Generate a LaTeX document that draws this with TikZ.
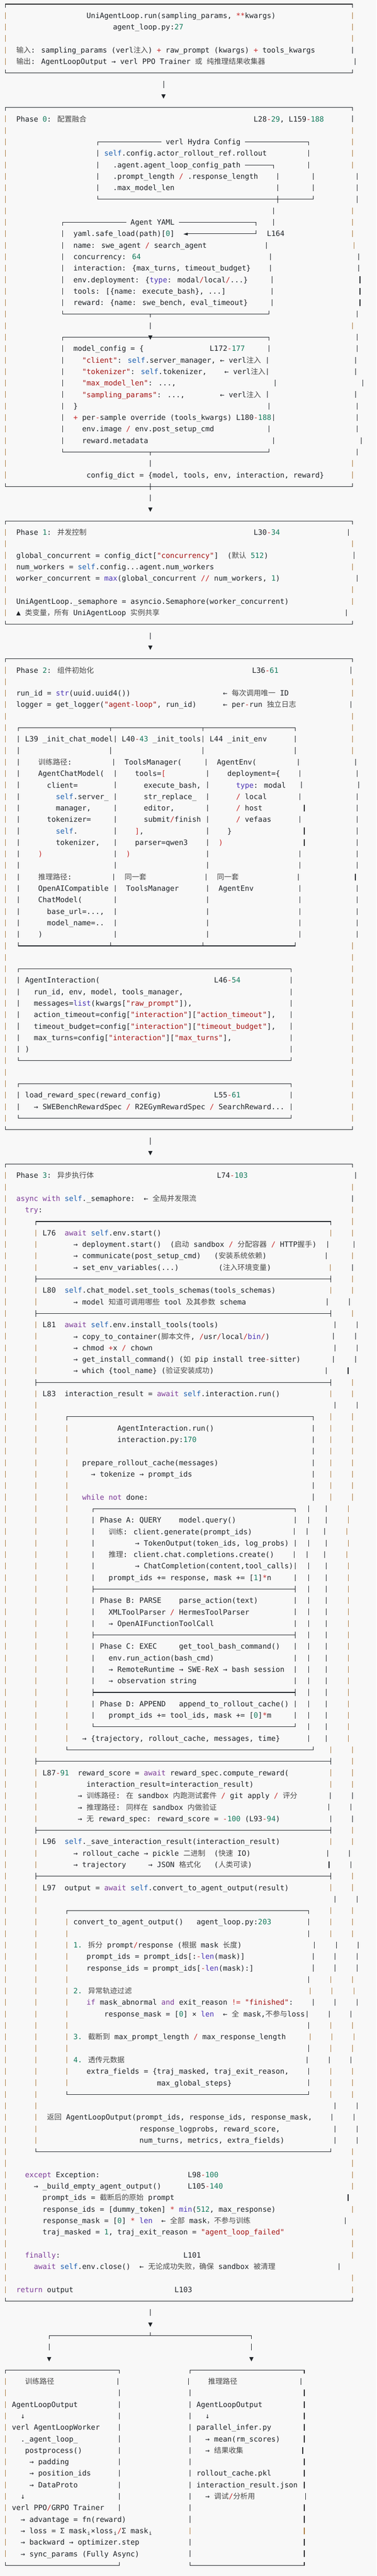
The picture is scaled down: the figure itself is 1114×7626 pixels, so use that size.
\documentclass[tikz,border=0pt]{standalone}
\usepackage{fontspec}
\newfontfamily\monof{DejaVu Sans Mono}
\newfontfamily\cjkf{Noto Sans CJK SC}
\usepackage{xcolor}
\definecolor{bgc}{HTML}{F8F8F8}
\definecolor{txt}{HTML}{1F2328}
\definecolor{kwc}{HTML}{7D3C98}
\definecolor{sfc}{HTML}{1D5FB0}
\definecolor{bic}{HTML}{4A33B5}
\definecolor{nmc}{HTML}{137A5C}
\definecolor{sqc}{HTML}{A31515}
\definecolor{opc}{HTML}{C62828}
\definecolor{zhc}{HTML}{4A4A4A}
\definecolor{barb}{HTML}{A8763A}
\newlength\cellw \setlength\cellw{13.0043pt}
\newlength\halfw \setlength\halfw{\dimexpr0.5\cellw-0.8pt\relax}
\newcommand\Kw[1]{\textcolor{kwc}{#1}}
\newcommand\Sf[1]{\textcolor{sfc}{#1}}
\newcommand\Bi[1]{\textcolor{bic}{#1}}
\newcommand\Nm[1]{\textcolor{nmc}{#1}}
\newcommand\Sq[1]{\textcolor{sqc}{#1}}
\newcommand\Op[1]{\textcolor{opc}{#1}}
\newcommand\Zh[1]{{\cjkf\color{zhc}#1}}
\newcommand\Sp[1]{\hspace*{#1\cellw}}
\newcommand\Hr[1]{\rule[7pt]{#1}{1.6pt}}
\newcommand\Hl[1]{\Hr{#1\cellw}}
\newcommand\Vb{\makebox[\cellw]{\textcolor{barb}{\rule[-2.2pt]{1.6pt}{20pt}}}}
\newcommand\Vk{\makebox[\cellw]{\rule[-2.2pt]{1.6pt}{20pt}}}
\newcommand\CTL{\hspace*{\halfw}\rule[-2.2pt]{1.6pt}{10.8pt}\Hr{\halfw}}
\newcommand\CTR{\Hr{\halfw}\rule[-2.2pt]{1.6pt}{10.8pt}\hspace*{\halfw}}
\newcommand\CBL{\hspace*{\halfw}\rule[7pt]{1.6pt}{10.8pt}\Hr{\halfw}}
\newcommand\CBR{\Hr{\halfw}\rule[7pt]{1.6pt}{10.8pt}\hspace*{\halfw}}
\newcommand\CTD{\Hr{\halfw}\rule[-2.2pt]{1.6pt}{10.8pt}\Hr{\halfw}}
\newcommand\CTU{\Hr{\halfw}\rule[7pt]{1.6pt}{10.8pt}\Hr{\halfw}}
\newcommand\CLT{\hspace*{\halfw}\rule[-2.2pt]{1.6pt}{20pt}\Hr{\halfw}}
\newcommand\CRT{\Hr{\halfw}\rule[-2.2pt]{1.6pt}{20pt}\hspace*{\halfw}}
\newcommand\CX{\Hr{\halfw}\rule[-2.2pt]{1.6pt}{20pt}\Hr{\halfw}}
\newcommand\Dn{\rlap{\Hr{\cellw}}\makebox[\cellw]{▼}}
\newcommand\Tri{\makebox[\cellw]{▼}}
\newcommand\LArw{\makebox[\cellw]{◄}}
\newcommand\Si{\makebox[\cellw]{\raisebox{-4pt}{\fontsize{14}{14}\selectfont i}}}
\newcommand\Pf{\Vb\Sp{6}\Vb\Sp{6}\Vb\Sp{5}}
\newcommand\Qs{\Sp{2}\Vk\Sp{3}\Vk\Sp{4}\Vb}
\newcommand\Row[2]{\node[rowtext] (r#1) at (9.1,-20-34*#1) {#2};}
\tikzset{rowtext/.style={anchor=base west, inner sep=0pt, outer sep=0pt, text=txt, font=\monof\fontsize{21.6}{34}\selectfont}}
\begin{document}
\catcode`\_=12
\begin{tikzpicture}[x=1pt,y=1pt]
\fill[bgc] (0,0) rectangle (1114,-7626);
\useasboundingbox (0,0) rectangle (1114,-7626);
\Row{0}{\CTL\Hl{78}\CTR}
\Row{1}{\Vb\Sp{18}UniAgentLoop.run(sampling_params, \Op{**}kwargs)\Sp{17}\Vb}
\Row{2}{\Vb\Sp{24}agent_loop.py:\Nm{27}\Sp{38}\Vb}
\Row{3}{\Vb\Sp{78}\Vb}
\Row{4}{\Vb\Sp{2}\Zh{输入}: sampling_params (verl\Zh{注入}) \Op{+} raw_prompt (kwargs) \Op{+} tools_kwargs\Sp{8}\Vk}
\Row{5}{\Vb\Sp{2}\Zh{输出}: AgentLoopOutput → verl PPO Trainer \Zh{或} \Zh{纯推理结果收集器}\Sp{20}\Vk}
\Row{6}{\CBL\Hl{78}\CBR}
\Row{7}{\Sp{36}\Vk}
\Row{8}{\Sp{36}\Tri}
\Row{9}{\CTL\Hl{78}\CTR}
\Row{10}{\Vb\Sp{2}Phase \Nm{0}: \Zh{配置融合}\Sp{38}L28\Op{-}\Nm{29}, L159\Op{-}\Nm{188}\Sp{6}\Vk}
\Row{11}{\Vb\Sp{78}\Vb}
\Row{12}{\Vb\Sp{20}\CTL\Hl{14} verl Hydra Config \Hl{14}\CTR\Sp{9}\Vb}
\Row{13}{\Vb\Sp{20}\Vk\Sp{1}\Sf{self}.config.actor_rollout_ref.rollout\Sp{9}\Vk\Sp{9}\Vb}
\Row{14}{\Vb\Sp{20}\Vk\Sp{3}.agent.agent_loop_config_path \Hl{6}\CTR\Sp{7}\Vk\Sp{9}\Vb}
\Row{15}{\Vb\Sp{20}\Vk\Sp{3}.prompt_length \Op{/} .response_length\Sp{4}\Vk\Sp{7}\Vk\Sp{9}\Vk}
\Row{16}{\Vb\Sp{20}\Vk\Sp{3}.max_model_len\Sp{23}\Vk\Sp{7}\Vk\Sp{9}\Vk}
\Row{17}{\Vb\Sp{20}\CBL\Hl{40}\CX\Hl{7}\CBR\Sp{9}\Vk}
\Row{18}{\Vb\Sp{60}\Vk\Sp{17}\Vb}
\Row{19}{\Vb\Sp{12}\CTL\Hl{14} Agent YAML \Hl{17}\CTR\Sp{3}\Vk\Sp{17}\Vb}
\Row{20}{\Vb\Sp{12}\Vk\Sp{2}yaml.safe_load(path)[\Nm{0}]\Sp{2}\LArw\Hl{15}\CBR\Sp{2}L164\Sp{15}\Vb}
\Row{21}{\Vb\Sp{12}\Vk\Sp{2}name: swe_agent \Op{/} search_agent\Sp{13}\Vk\Sp{19}\Vb}
\Row{22}{\Vb\Sp{12}\Vk\Sp{2}concurrency: \Nm{64}\Sp{29}\Vk\Sp{19}\Vk}
\Row{23}{\Vb\Sp{12}\Vk\Sp{2}interaction: \{max_turns, timeout_budget\}\Sp{4}\Vk\Sp{19}\Vk}
\Row{24}{\Vb\Sp{12}\Vk\Sp{2}env.deployment: \{\Bi{type}: modal\Op{/}local\Op{/}...\}\Sp{5}\Vk\Sp{19}\Vk}
\Row{25}{\Vb\Sp{12}\Vk\Sp{2}tools: [\{name: execute_bash\}, ...]\Sp{10}\Vk\Sp{19}\Vk}
\Row{26}{\Vb\Sp{12}\Vk\Sp{2}reward: \{name: swe_bench, eval_timeout\}\Sp{5}\Vk\Sp{19}\Vk}
\Row{27}{\Vb\Sp{12}\CBL\Hl{19}\CTD\Hl{26}\CBR\Sp{19}\Vk}
\Row{28}{\Vb\Sp{32}\Vk\Sp{45}\Vb}
\Row{29}{\Vb\Sp{12}\CTL\Hl{19}\Dn\Hl{26}\CTR\Sp{19}\Vk}
\Row{30}{\Vb\Sp{12}\Vk\Sp{2}model_config = \{\Sp{15}L172\Op{-}\Nm{177}\Sp{5}\Vk\Sp{19}\Vk}
\Row{31}{\Vb\Sp{12}\Vk\Sp{4}\Sq{"client"}: \Sf{self}.server_manager, ← verl\Zh{注入} \Vk\Sp{19}\Vk}
\Row{32}{\Vb\Sp{12}\Vk\Sp{4}\Sq{"tokenizer"}: \Sf{self}.tokenizer,\Sp{4}← verl\Zh{注入}\Vk\Sp{19}\Vk}
\Row{33}{\Vb\Sp{12}\Vk\Sp{4}\Sq{"max_model_len"}: ...,\Sp{22}\Vk\Sp{19}\Vk}
\Row{34}{\Vb\Sp{12}\Vk\Sp{4}\Sq{"sampling_params"}: ...,\Sp{8}← verl\Zh{注入} \Vk\Sp{19}\Vk}
\Row{35}{\Vb\Sp{12}\Vk\Sp{2}\}\Sp{43}\Vk\Sp{19}\Vk}
\Row{36}{\Vb\Sp{12}\Vk\Sp{2}\Op{+} per\Op{-}sample override (tools_kwargs) L180\Op{-}\Nm{188}\Vk\Sp{18}\Vk}
\Row{37}{\Vb\Sp{12}\Vk\Sp{4}env.image \Op{/} env.post_setup_cmd\Sp{12}\Vk\Sp{19}\Vk}
\Row{38}{\Vb\Sp{12}\Vk\Sp{4}reward.metadata\Sp{28}\Vk\Sp{19}\Vk}
\Row{39}{\Vb\Sp{12}\CBL\Hl{19}\CTD\Hl{26}\CBR\Sp{19}\Vk}
\Row{40}{\Vb\Sp{32}\Vk\Sp{45}\Vb}
\Row{41}{\Vb\Sp{18}config_dict = \{model, tools, env, interaction, reward\}\Sp{6}\Vb}
\Row{42}{\CBL\Hl{32}\CX\Hl{45}\CBR}
\Row{43}{\Sp{33}\Vk}
\Row{44}{\Sp{33}\Tri}
\Row{45}{\CTL\Hl{78}\CTR}
\Row{46}{\Vb\Sp{2}Phase \Nm{1}: \Zh{并发控制}\Sp{38}L30\Op{-}\Nm{34}\Sp{15}\Vk}
\Row{47}{\Vb\Sp{78}\Vb}
\Row{48}{\Vb\Sp{2}global_concurrent = config_dict[\Sq{"concurrency"}]\Sp{2}(\Zh{默认} \Nm{512})\Sp{19}\Vk}
\Row{49}{\Vb\Sp{2}num_workers = \Sf{self}.config...agent.num_workers\Sp{31}\Vb}
\Row{50}{\Vb\Sp{2}worker_concurrent = \Bi{max}(global_concurrent \Op{//} num_workers, \Nm{1})\Sp{17}\Vk}
\Row{51}{\Vb\Sp{78}\Vb}
\Row{52}{\Vb\Sp{2}UniAgentLoop._semaphore = asyncio.Semaphore(worker_concurrent)\Sp{14}\Vb}
\Row{53}{\Vb\Sp{2}▲ \Zh{类变量，所有} UniAgentLoop \Zh{实例共享}\Sp{42}\Vk}
\Row{54}{\CBL\Hl{78}\CBR}
\Row{55}{\Sp{33}\Vk}
\Row{56}{\Sp{33}\Tri}
\Row{57}{\CTL\Hl{78}\CTR}
\Row{58}{\Vb\Sp{2}Phase \Nm{2}: \Zh{组件初始化}\Sp{36}L36\Op{-}\Nm{61}\Sp{16}\Vk}
\Row{59}{\Vb\Sp{78}\Vb}
\Row{60}{\Vb\Sp{2}run_id = \Bi{str}(uuid.uuid4())\Sp{21}← \Zh{每次调用唯一} ID\Sp{14}\Vb}
\Row{61}{\Vb\Sp{2}logger = get_logger(\Sq{"agent-loop"}, run_id)\Sp{6}← per\Op{-}run \Zh{独立日志}\Sp{12}\Vk}
\Row{62}{\Vb\Sp{78}\Vb}
\Row{63}{\Vb\Sp{2}\CTL\Hl{20}\CTD\Hl{20}\CTD\Hl{20}\CTR\Sp{12}\Vb}
\Row{64}{\Vb\Sp{2}\Vk\Sp{1}L39 _init_chat_model\Vk\Sp{1}L40\Op{-}\Nm{43} _init_tools\Vk\Sp{1}L44 _init_env\Sp{6}\Vk\Sp{12}\Vb}
\Row{65}{\Vb\Sp{2}\Vk\Sp{20}\Vk\Sp{20}\Vk\Sp{20}\Vk\Sp{12}\Vb}
\Row{66}{\Vb\Sp{2}\Vk\Sp{4}\Zh{训练路径}:\Sp{9}\Vk\Sp{2}ToolsManager(\Sp{5}\Vk\Sp{2}AgentEnv(\Sp{9}\Vk\Sp{12}\Vk}
\Row{67}{\Vb\Sp{2}\Vk\Sp{4}AgentChatModel(\Sp{2}\Vk\Sp{4}tools=\Op{[}\Sp{9}\Vk\Sp{4}deployment=\{\Sp{4}\Vk\Sp{12}\Vk}
\Row{68}{\Vb\Sp{2}\Vk\Sp{6}client=\Sp{8}\Vk\Sp{6}execute_bash,\Sp{1}\Vk\Sp{6}\Bi{type}: modal\Sp{3}\Vk\Sp{12}\Vk}
\Row{69}{\Vb\Sp{2}\Vk\Sp{8}\Sf{self}.server_\Sp{1}\Vk\Sp{6}str_replace_\Sp{2}\Vk\Sp{6}\Op{/} local\Sp{7}\Vk\Sp{12}\Vk}
\Row{70}{\Vb\Sp{2}\Vk\Sp{8}manager,\Sp{5}\Vk\Sp{6}editor,\Sp{7}\Vk\Sp{6}\Op{/} host\Sp{9}\Vk\Sp{11}\Vk}
\Row{71}{\Vb\Sp{2}\Vk\Sp{6}tokenizer=\Sp{5}\Vk\Sp{6}submit\Op{/}finish\Sp{1}\Vk\Sp{6}\Op{/} vefaas\Sp{6}\Vk\Sp{12}\Vk}
\Row{72}{\Vb\Sp{2}\Vk\Sp{8}\Sf{self}.\Sp{8}\Vk\Sp{4}\Op{]},\Sp{14}\Vk\Sp{4}\}\Sp{16}\Vk\Sp{11}\Vk}
\Row{73}{\Vb\Sp{2}\Vk\Sp{8}tokenizer,\Sp{3}\Vk\Sp{4}parser=qwen3\Sp{4}\Vk\Sp{2}\Op{)}\Sp{18}\Vk\Sp{11}\Vk}
\Row{74}{\Vb\Sp{2}\Vk\Sp{4}\Op{)}\Sp{16}\Vk\Sp{2}\Op{)}\Sp{17}\Vk\Sp{20}\Vk\Sp{12}\Vk}
\Row{75}{\Vb\Sp{2}\Vk\Sp{21}\Vk\Sp{20}\Vk\Sp{20}\Vk\Sp{12}\Vk}
\Row{76}{\Vb\Sp{2}\Vk\Sp{4}\Zh{推理路径}:\Sp{9}\Vk\Sp{2}\Zh{同一套}\Sp{13}\Vk\Sp{2}\Zh{同一套}\Sp{13}\Vk\Sp{12}\Vk}
\Row{77}{\Vb\Sp{2}\Vk\Sp{4}OpenAICompatible\Sp{1}\Vk\Sp{2}ToolsManager\Sp{6}\Vk\Sp{2}AgentEnv\Sp{10}\Vk\Sp{12}\Vk}
\Row{78}{\Vb\Sp{2}\Vk\Sp{4}ChatModel(\Sp{7}\Vk\Sp{20}\Vk\Sp{20}\Vk\Sp{12}\Vk}
\Row{79}{\Vb\Sp{2}\Vk\Sp{6}base_url=...,\Sp{2}\Vk\Sp{20}\Vk\Sp{20}\Vk\Sp{12}\Vk}
\Row{80}{\Vb\Sp{2}\Vk\Sp{6}model_name=..\Sp{2}\Vk\Sp{20}\Vk\Sp{20}\Vk\Sp{12}\Vk}
\Row{81}{\Vb\Sp{2}\Vk\Sp{4})\Sp{16}\Vk\Sp{20}\Vk\Sp{20}\Vk\Sp{12}\Vk}
\Row{82}{\Vb\Sp{2}\CBL\Hl{20}\CTU\Hl{20}\CTU\Hl{20}\CBR\Sp{12}\Vb}
\Row{83}{\Vb\Sp{78}\Vb}
\Row{84}{\Vb\Sp{2}\CTL\Hl{61}\CTR\Sp{13}\Vb}
\Row{85}{\Vb\Sp{2}\Vk\Sp{1}AgentInteraction(\Sp{26}L46\Op{-}\Nm{54}\Sp{11}\Vk\Sp{13}\Vb}
\Row{86}{\Vb\Sp{2}\Vk\Sp{3}run_id, env, model, tools_manager,\Sp{24}\Vk\Sp{13}\Vb}
\Row{87}{\Vb\Sp{2}\Vk\Sp{3}messages=\Bi{list}(kwargs[\Sq{"raw_prompt"}]),\Sp{22}\Vk\Sp{13}\Vb}
\Row{88}{\Vb\Sp{2}\Vk\Sp{3}action_timeout=config[\Sq{"interaction"}][\Sq{"action_timeout"}],\Sp{3}\Vk\Sp{13}\Vb}
\Row{89}{\Vb\Sp{2}\Vk\Sp{3}timeout_budget=config[\Sq{"interaction"}][\Sq{"timeout_budget"}],\Sp{3}\Vk\Sp{13}\Vb}
\Row{90}{\Vb\Sp{2}\Vk\Sp{3}max_turns=config[\Sq{"interaction"}][\Sq{"max_turns"}],\Sp{13}\Vk\Sp{13}\Vb}
\Row{91}{\Vb\Sp{2}\Vk\Sp{1})\Sp{59}\Vk\Sp{13}\Vb}
\Row{92}{\Vb\Sp{2}\CBL\Hl{61}\CBR\Sp{13}\Vb}
\Row{93}{\Vb\Sp{78}\Vb}
\Row{94}{\Vb\Sp{2}\CTL\Hl{61}\CTR\Sp{13}\Vb}
\Row{95}{\Vb\Sp{2}\Vk\Sp{1}load_reward_spec(reward_config)\Sp{12}L55\Op{-}\Nm{61}\Sp{11}\Vk\Sp{13}\Vb}
\Row{96}{\Vb\Sp{2}\Vk\Sp{3}→ SWEBenchRewardSpec \Op{/} R2EGymRewardSpec \Op{/} SearchReward...\Sp{1}\Vk\Sp{13}\Vb}
\Row{97}{\Vb\Sp{2}\CBL\Hl{61}\CBR\Sp{13}\Vb}
\Row{98}{\CBL\Hl{78}\CBR}
\Row{99}{\Sp{33}\Vk}
\Row{100}{\Sp{33}\Tri}
\Row{101}{\CTL\Hl{78}\CTR}
\Row{102}{\Vb\Sp{2}Phase \Nm{3}: \Zh{异步执行体}\Sp{28}L74\Op{-}\Nm{103}\Sp{24}\Vk}
\Row{103}{\Vb\Sp{78}\Vb}
\Row{104}{\Vb\Sp{2}\Kw{async} \Kw{with} \Sf{self}._semaphore:\Sp{2}← \Zh{全局并发限流}\Sp{35}\Vk}
\Row{105}{\Vb\Sp{4}\Kw{try}:\Sp{70}\Vb}
\Row{106}{\Vb\Sp{6}\CTL\Hl{66}\CTR\Sp{4}\Vb}
\Row{107}{\Vb\Sp{6}\Vb\Sp{1}L76\Sp{2}\Kw{await} \Sf{self}.env.start()\Sp{38}\Vb\Sp{4}\Vb}
\Row{108}{\Vb\Sp{6}\Vb\Sp{8}→ deployment.start()\Sp{2}(\Zh{启动} sandbox \Op{/} \Zh{分配容器} \Op{/} HTTP\Zh{握手})\Sp{2}\Vk\Sp{5}\Vk}
\Row{109}{\Vb\Sp{6}\Vb\Sp{8}→ communicate(post_setup_cmd)\Sp{3}(\Zh{安装系统依赖})\Sp{13}\Vk\Sp{5}\Vb}
\Row{110}{\Vb\Sp{6}\Vb\Sp{8}→ set_env_variables(...)\Sp{9}(\Zh{注入环境变量})\Sp{13}\Vb\Sp{4}\Vk}
\Row{111}{\Vb\Sp{6}\CLT\Hl{66}\CRT\Sp{4}\Vb}
\Row{112}{\Vb\Sp{6}\Vb\Sp{1}L80\Sp{2}\Sf{self}.chat_model.set_tools_schemas(tools_schemas)\Sp{12}\Vb\Sp{4}\Vb}
\Row{113}{\Vb\Sp{6}\Vb\Sp{8}→ model \Zh{知道可调用哪些} tool \Zh{及其参数} schema\Sp{18}\Vk\Sp{4}\Vk}
\Row{114}{\Vb\Sp{6}\CLT\Hl{66}\CRT\Sp{4}\Vb}
\Row{115}{\Vb\Sp{6}\Vb\Sp{1}L81\Sp{2}\Kw{await} \Sf{self}.env.install_tools(tools)\Sp{26}\Vk\Sp{4}\Vk}
\Row{116}{\Vb\Sp{6}\Vb\Sp{8}→ copy_to_container(\Zh{脚本文件}, \Op{/}usr\Op{/}local\Op{/}\Bi{bin}\Op{/})\Sp{14}\Vk\Sp{4}\Vk}
\Row{117}{\Vb\Sp{6}\Vb\Sp{8}→ chmod \Op{+}x \Op{/} chown\Sp{41}\Vk\Sp{4}\Vk}
\Row{118}{\Vb\Sp{6}\Vb\Sp{8}→ get_install_command() (\Zh{如} pip install tree\Op{-}sitter)\Sp{7}\Vk\Sp{4}\Vk}
\Row{119}{\Vb\Sp{6}\Vb\Sp{8}→ which \{tool_name\} (\Zh{验证安装成功})\Sp{25}\Vk\Sp{4}\Vk}
\Row{120}{\Vb\Sp{6}\CLT\Hl{66}\CRT\Sp{4}\Vb}
\Row{121}{\Vb\Sp{6}\Vb\Sp{1}L83\Sp{2}interaction_result = \Kw{await} \Sf{self}.interaction.run()\Sp{11}\Vb\Sp{4}\Vb}
\Row{122}{\Vb\Sp{6}\Vb\Sp{67}\Vk\Sp{4}\Vk}
\Row{123}{\Vb\Sp{6}\Vb\Sp{6}\CTL\Hl{55}\CTR\Sp{3}\Vb\Sp{4}\Vb}
\Row{124}{\Vb\Sp{6}\Vb\Sp{6}\Vb\Sp{11}AgentInteraction.run()\Sp{22}\Vk\Sp{3}\Vb\Sp{4}\Vb}
\Row{125}{\Vb\Sp{6}\Vb\Sp{6}\Vb\Sp{11}interaction.py:\Nm{170}\Sp{26}\Vk\Sp{3}\Vb\Sp{4}\Vb}
\Row{126}{\Vb\Sp{6}\Vb\Sp{6}\Vb\Sp{55}\Vk\Sp{3}\Vb\Sp{4}\Vb}
\Row{127}{\Vb\Sp{6}\Vb\Sp{6}\Vb\Sp{3}prepare_rollout_cache(messages)\Sp{21}\Vk\Sp{3}\Vb\Sp{4}\Vb}
\Row{128}{\Vb\Sp{6}\Vb\Sp{6}\Vb\Sp{5}→ tokenize → prompt_ids\Sp{27}\Vk\Sp{3}\Vb\Sp{4}\Vb}
\Row{129}{\Vb\Sp{6}\Vb\Sp{6}\Vb\Sp{55}\Vk\Sp{3}\Vb\Sp{4}\Vb}
\Row{130}{\Vb\Sp{6}\Vb\Sp{6}\Vb\Sp{3}\Kw{while} \Kw{not} done:\Sp{37}\Vk\Sp{3}\Vb\Sp{4}\Vb}
\Row{131}{\Pf\CTL\Hl{45}\CTR\Qs}
\Row{132}{\Pf\Vk\Sp{1}Phase A: QUERY\Sp{4}model.query()\Sp{13}\Vk\Qs}
\Row{133}{\Pf\Vk\Sp{3}\Zh{训练}: client.generate(prompt_ids)\Sp{9}\Vk\Qs}
\Row{134}{\Pf\Vk\Sp{9}→ TokenOutput(token_ids, log_probs)\Sp{1}\Vk\Qs}
\Row{135}{\Pf\Vk\Sp{3}\Zh{推理}: client.chat.completions.create()\Sp{4}\Vk\Qs}
\Row{136}{\Pf\Vk\Sp{9}→ ChatCompletion(content,tool_calls)\Vk\Qs}
\Row{137}{\Pf\Vk\Sp{3}prompt_ids += response, mask += [\Nm{1}]\Op{*}n\Sp{5}\Vk\Qs}
\Row{138}{\Pf\CLT\Hl{45}\CRT\Qs}
\Row{139}{\Pf\Vk\Sp{1}Phase B: PARSE\Sp{4}parse_action(text)\Sp{8}\Vk\Qs}
\Row{140}{\Pf\Vk\Sp{3}XMLToolParser \Op{/} HermesToolParser\Sp{10}\Vk\Qs}
\Row{141}{\Pf\Vk\Sp{3}→ OpenAIFunctionToolCall\Sp{18}\Vk\Qs}
\Row{142}{\Pf\CLT\Hl{45}\CRT\Qs}
\Row{143}{\Pf\Vk\Sp{1}Phase C: EXEC\Sp{5}get_tool_bash_command()\Sp{3}\Vk\Qs}
\Row{144}{\Pf\Vk\Sp{3}env.run_action(bash_cmd)\Sp{18}\Vk\Qs}
\Row{145}{\Pf\Vk\Sp{3}→ RemoteRuntime → SWE\Op{-}ReX → bash session\Sp{2}\Vk\Qs}
\Row{146}{\Pf\Vk\Sp{3}→ observation string\Sp{22}\Vk\Qs}
\Row{147}{\Pf\CLT\Hl{45}\CRT\Qs}
\Row{148}{\Pf\Vk\Sp{1}Phase D: APPEND\Sp{3}append_to_rollout_cache()\Sp{1}\Vk\Qs}
\Row{149}{\Pf\Vk\Sp{3}prompt_ids += tool_ids, mask += [\Nm{0}]\Op{*}m\Sp{5}\Vk\Qs}
\Row{150}{\Pf\CBL\Hl{45}\CBR\Qs}
\Row{151}{\Vb\Sp{6}\Vb\Sp{6}\Vb\Sp{3}→ \{trajectory, rollout_cache, messages, time\}\Sp{6}\Vk\Sp{3}\Vk\Sp{4}\Vb}
\Row{152}{\Vb\Sp{6}\Vb\Sp{6}\CBL\Hl{55}\CBR\Sp{3}\Vb\Sp{4}\Vb}
\Row{153}{\Vb\Sp{6}\CLT\Hl{66}\CRT\Sp{4}\Vb}
\Row{154}{\Vb\Sp{6}\Vb\Sp{1}L87\Op{-}\Nm{91}\Sp{2}reward_score = \Kw{await} reward_spec.compute_reward(\Sp{9}\Vb\Sp{4}\Vb}
\Row{155}{\Vb\Sp{6}\Vb\Sp{11}interaction_result=interaction_result)\Sp{17}\Vb\Sp{4}\Vb}
\Row{156}{\Vb\Sp{6}\Vb\Sp{9}→ \Zh{训练路径}: \Zh{在} sandbox \Zh{内跑测试套件} \Op{/} git apply \Op{/} \Zh{评分}\Sp{7}\Vk\Sp{4}\Vk}
\Row{157}{\Vb\Sp{6}\Vb\Sp{9}→ \Zh{推理路径}: \Zh{同样在} sandbox \Zh{内做验证}\Sp{25}\Vk\Sp{4}\Vk}
\Row{158}{\Vb\Sp{6}\Vb\Sp{9}→ \Zh{无} reward_spec: reward_score = \Op{-}\Nm{100} (L93\Op{-}\Nm{94})\Sp{11}\Vk\Sp{4}\Vk}
\Row{159}{\Vb\Sp{6}\CLT\Hl{66}\CRT\Sp{4}\Vb}
\Row{160}{\Vb\Sp{6}\Vb\Sp{1}L96\Sp{2}\Sf{self}._save_interaction_result(interaction_result)\Sp{11}\Vb\Sp{4}\Vb}
\Row{161}{\Vb\Sp{6}\Vb\Sp{8}→ rollout_cache → pickle \Zh{二进制}\Sp{2}(\Zh{快速} IO)\Sp{17}\Vk\Sp{4}\Vk}
\Row{162}{\Vb\Sp{6}\Vb\Sp{8}→ trajectory\Sp{5}→ JSON \Zh{格式化}\Sp{3}(\Zh{人类可读})\Sp{17}\Vk\Sp{4}\Vk}
\Row{163}{\Vb\Sp{6}\CLT\Hl{66}\CRT\Sp{4}\Vb}
\Row{164}{\Vb\Sp{6}\Vb\Sp{1}L97\Sp{2}output = \Kw{await} \Sf{self}.convert_to_agent_output(result)\Sp{9}\Vb\Sp{4}\Vb}
\Row{165}{\Vb\Sp{6}\Vb\Sp{67}\Vk\Sp{4}\Vk}
\Row{166}{\Vb\Sp{6}\Vb\Sp{6}\CTL\Hl{54}\CTR\Sp{4}\Vb\Sp{4}\Vb}
\Row{167}{\Vb\Sp{6}\Vb\Sp{6}\Vb\Sp{1}convert_to_agent_output()\Sp{3}agent_loop.py:\Nm{203}\Sp{8}\Vk\Sp{4}\Vb\Sp{4}\Vb}
\Row{168}{\Vb\Sp{6}\Vb\Sp{6}\Vb\Sp{54}\Vk\Sp{4}\Vb\Sp{4}\Vb}
\Row{169}{\Vb\Sp{6}\Vb\Sp{6}\Vb\Sp{1}\Nm{1.} \Zh{拆分} prompt\Op{/}response (\Zh{根据} mask \Zh{长度})\Sp{16}\Vk\Sp{4}\Vk\Sp{4}\Vk}
\Row{170}{\Vb\Sp{6}\Vb\Sp{6}\Vb\Sp{4}prompt_ids = prompt_ids[:\Op{-}\Bi{len}(mask)]\Sp{15}\Vk\Sp{4}\Vk\Sp{4}\Vk}
\Row{171}{\Vb\Sp{6}\Vb\Sp{6}\Vb\Sp{4}response_ids = prompt_ids[\Op{-}\Bi{len}(mask):]\Sp{13}\Vk\Sp{4}\Vk\Sp{4}\Vk}
\Row{172}{\Vb\Sp{6}\Vb\Sp{6}\Vb\Sp{54}\Vk\Sp{4}\Vb\Sp{4}\Vb}
\Row{173}{\Vb\Sp{6}\Vb\Sp{6}\Vb\Sp{1}\Nm{2.} \Zh{异常轨迹过滤}\Sp{40}\Vb\Sp{4}\Vb\Sp{4}\Vb}
\Row{174}{\Vb\Sp{6}\Vb\Sp{6}\Vb\Sp{4}\Kw{if} mask_abnormal \Kw{and} exit_reason \Op{!=} \Sq{"finished"}:\Sp{4}\Vk\Sp{4}\Vk\Sp{4}\Vk}
\Row{175}{\Vb\Sp{6}\Vb\Sp{6}\Vb\Sp{8}response_mask = [\Nm{0}] × \Bi{len}\Sp{2}← \Zh{全} mask,\Zh{不参与}loss\Vk\Sp{4}\Vk\Sp{4}\Vk}
\Row{176}{\Vb\Sp{6}\Vb\Sp{6}\Vb\Sp{54}\Vk\Sp{4}\Vb\Sp{4}\Vb}
\Row{177}{\Vb\Sp{6}\Vb\Sp{6}\Vb\Sp{1}\Nm{3.} \Zh{截断到} max_prompt_length \Op{/} max_response_length\Sp{5}\Vb\Sp{4}\Vb\Sp{4}\Vb}
\Row{178}{\Vb\Sp{6}\Vb\Sp{6}\Vb\Sp{54}\Vk\Sp{4}\Vb\Sp{4}\Vb}
\Row{179}{\Vb\Sp{6}\Vb\Sp{6}\Vb\Sp{1}\Nm{4.} \Zh{透传元数据}\Sp{41}\Vk\Sp{4}\Vk\Sp{4}\Vk}
\Row{180}{\Vb\Sp{6}\Vb\Sp{6}\Vb\Sp{4}extra_fields = \{traj_masked, traj_exit_reason,\Sp{4}\Vk\Sp{4}\Vb\Sp{4}\Vb}
\Row{181}{\Vb\Sp{6}\Vb\Sp{6}\Vb\Sp{20}max_global_steps\}\Sp{17}\Vk\Sp{4}\Vb\Sp{4}\Vb}
\Row{182}{\Vb\Sp{6}\Vb\Sp{6}\CBL\Hl{54}\CBR\Sp{4}\Vb\Sp{4}\Vb}
\Row{183}{\Vb\Sp{6}\Vb\Sp{67}\Vk\Sp{4}\Vk}
\Row{184}{\Vb\Sp{6}\Vb\Sp{2}\Zh{返回} AgentLoopOutput(prompt_ids, response_ids, response_mask,\Sp{4}\Vk\Sp{4}\Vk}
\Row{185}{\Vb\Sp{6}\Vb\Sp{23}response_logprobs, reward_score,\Sp{12}\Vk\Sp{4}\Vk}
\Row{186}{\Vb\Sp{6}\Vb\Sp{23}num_turns, metrics, extra_fields)\Sp{11}\Vk\Sp{4}\Vk}
\Row{187}{\Vb\Sp{6}\CBL\Hl{66}\CBR\Sp{4}\Vb}
\Row{188}{\Vb\Sp{78}\Vb}
\Row{189}{\Vb\Sp{4}\Kw{except} Exception:\Sp{20}L98\Op{-}\Nm{100}\Sp{30}\Vb}
\Row{190}{\Vb\Sp{6}→ _build_empty_agent_output()\Sp{6}L105\Op{-}\Nm{140}\Sp{29}\Vb}
\Row{191}{\Vb\Sp{8}prompt_ids = \Zh{截断后的原始} prompt\Sp{39}\Vk}
\Row{192}{\Vb\Sp{8}response_ids = [dummy_token] \Op{*} \Bi{min}(\Nm{512}, max_response)\Sp{17}\Vb}
\Row{193}{\Vb\Sp{8}response_mask = [\Nm{0}] \Op{*} \Bi{len}\Sp{2}← \Zh{全部} mask\Zh{，不参与训练}\Sp{21}\Vk}
\Row{194}{\Vb\Sp{8}traj_masked = \Nm{1}, traj_exit_reason = \Sq{"agent_loop_failed"}\Sp{15}\Vb}
\Row{195}{\Vb\Sp{78}\Vb}
\Row{196}{\Vb\Sp{4}\Kw{finally}:\Sp{28}L101\Sp{34}\Vb}
\Row{197}{\Vb\Sp{6}\Kw{await} \Sf{self}.env.close()\Sp{2}← \Zh{无论成功失败，确保} sandbox \Zh{被清理}\Sp{14}\Vk}
\Row{198}{\Vb\Sp{78}\Vb}
\Row{199}{\Vb\Sp{2}\Kw{return} output\Sp{23}L103\Sp{36}\Vb}
\Row{200}{\CBL\Hl{78}\CBR}
\Row{201}{\Sp{33}\Vk}
\Row{202}{\Sp{33}\Tri}
\Row{203}{\Sp{10}\CTL\Hl{22}\CTU\Hl{22}\CTR}
\Row{204}{\Sp{10}\Vk\Sp{45}\Vk}
\Row{205}{\Sp{10}\Tri\Sp{45}\Tri}
\Row{206}{\CTL\Hl{25}\CTR\Sp{15}\CTL\Hl{25}\CTR}
\Row{207}{\Vb\Sp{4}\Zh{训练路径}\Sp{14}\Vk\Sp{15}\Vk\Sp{4}\Zh{推理路径}\Sp{14}\Vk}
\Row{208}{\Vb\Sp{25}\Vk\Sp{15}\Vk\Sp{25}\Vk}
\Row{209}{\Vb\Sp{1}AgentLoopOutput\Sp{9}\Vk\Sp{15}\Vk\Sp{1}AgentLoopOutput\Sp{9}\Vk}
\Row{210}{\Vb\Sp{3}↓\Sp{21}\Vk\Sp{15}\Vk\Sp{3}↓\Sp{21}\Vk}
\Row{211}{\Vb\Sp{1}verl AgentLoopWorker\Sp{4}\Vk\Sp{15}\Vk\Sp{1}parallel_infer.py\Sp{7}\Vk}
\Row{212}{\Vb\Sp{3}._agent_loop_\Sp{9}\Vk\Sp{15}\Vk\Sp{3}→ mean(rm_scores)\Sp{5}\Vk}
\Row{213}{\Vb\Sp{4}postprocess()\Sp{8}\Vk\Sp{15}\Vk\Sp{3}→ \Zh{结果收集}\Sp{13}\Vk}
\Row{214}{\Vb\Sp{5}→ padding\Sp{11}\Vk\Sp{15}\Vk\Sp{25}\Vk}
\Row{215}{\Vb\Sp{5}→ position_ids\Sp{6}\Vk\Sp{15}\Vk\Sp{1}rollout_cache.pkl\Sp{7}\Vk}
\Row{216}{\Vb\Sp{5}→ DataProto\Sp{9}\Vk\Sp{15}\Vk\Sp{1}interaction_result.json\Sp{1}\Vk}
\Row{217}{\Vb\Sp{3}↓\Sp{21}\Vk\Sp{15}\Vk\Sp{3}→ \Zh{调试}\Op{/}\Zh{分析用}\Sp{11}\Vk}
\Row{218}{\Vb\Sp{1}verl PPO\Op{/}GRPO Trainer\Sp{3}\Vk\Sp{15}\Vk\Sp{25}\Vk}
\Row{219}{\Vb\Sp{3}→ advantage = fn(reward)\Sp{14}\Vk\Sp{25}\Vk}
\Row{220}{\Vb\Sp{3}→ loss = Σ mask\Si×loss\Si\Op{/}Σ mask\Si\Sp{8}\Vb\Sp{25}\Vb}
\Row{221}{\Vb\Sp{3}→ backward → optimizer.step\Sp{11}\Vk\Sp{25}\Vk}
\Row{222}{\Vb\Sp{3}→ sync_params (Fully Async)\Sp{11}\Vk\Sp{25}\Vk}
\Row{223}{\CBL\Hl{25}\CBR\Sp{15}\CBL\Hl{25}\CBR}
\end{tikzpicture}
\end{document}
